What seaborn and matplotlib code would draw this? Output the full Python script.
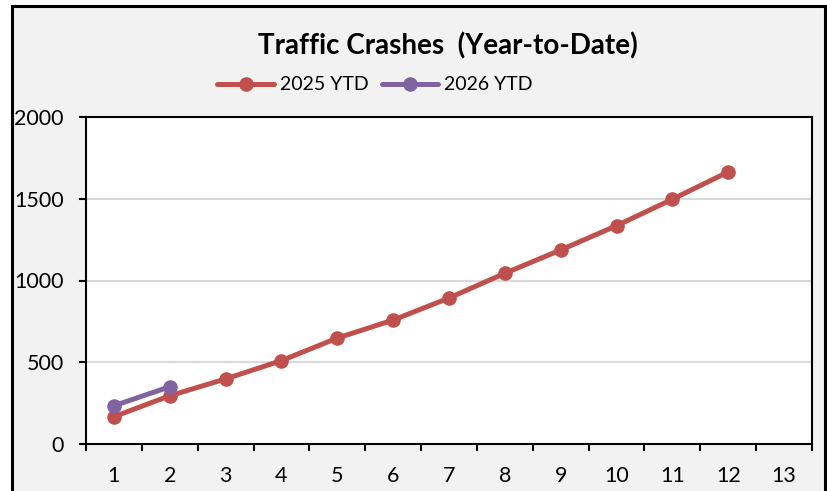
import matplotlib
matplotlib.use("Agg")
import matplotlib.pyplot as plt
from matplotlib.patches import Rectangle
from matplotlib.lines import Line2D
import pandas as pd
import seaborn as sns

MONTHS = list(range(1, 13))
YTD_2025 = [167, 295, 398, 510, 648, 758, 893, 1044, 1187, 1335, 1497, 1664]
MONTHS_2026 = [1, 2]
YTD_2026 = [234, 350]
SERIES = ["2025 YTD", "2026 YTD"]
COLORS = ["#C0504D", "#8064A2"]
X_TICKS = list(range(1, 14))
Y_TICKS = [0, 500, 1000, 1500, 2000]

df = pd.concat([
    pd.DataFrame({"month": MONTHS, "crashes": YTD_2025, "series": SERIES[0]}),
    pd.DataFrame({"month": MONTHS_2026, "crashes": YTD_2026, "series": SERIES[1]}),
])

sns.set_style("white")
plt.rcParams["font.family"] = ["Lato", "DejaVu Sans"]
plt.rcParams["text.color"] = "black"
plt.rcParams["xtick.color"] = "black"
plt.rcParams["ytick.color"] = "black"

fig = plt.figure(figsize=(8.28, 4.91), dpi=100, facecolor="white")
# outer chart frame
fig.patches.append(Rectangle((12 / 828, -0.05), 813 / 828, 1.05 - 6 / 491,
                             transform=fig.transFigure, facecolor="#F2F2F2",
                             edgecolor="black", linewidth=2.2, zorder=-1))

ax = fig.add_axes([86 / 828, 1 - 444 / 491, 726 / 828, 327 / 491])
ax.set_facecolor("white")

sns.lineplot(data=df, x="month", y="crashes", hue="series", hue_order=SERIES,
             palette=COLORS, marker="o", markersize=10.5, markeredgewidth=0,
             linewidth=3.6, ax=ax, legend=False)

ax.set_xlim(0.5, 13.5)
ax.set_ylim(0, 2000)
ax.set_xticks(X_TICKS)
ax.set_xticks([x + 0.5 for x in range(0, 14)], minor=True)
ax.set_yticks(Y_TICKS)
ax.tick_params(axis="x", which="major", length=0, pad=16, labelsize=15.5)
ax.tick_params(axis="x", which="minor", length=5, width=1.5, color="black",
               direction="out", bottom=True)
ax.tick_params(axis="y", length=5, width=1.5, color="black", direction="out",
               left=True, pad=11, labelsize=15.5)
ax.grid(axis="y", color="#D9D9D9", linewidth=1.5)
ax.set_axisbelow(True)
ax.set_xlabel("")
ax.set_ylabel("")
for s in ax.spines.values():
    s.set_visible(True)
    s.set_color("black")
    s.set_linewidth(1.5)

fig.text(448 / 828, 1 - 46 / 491, "Traffic Crashes  (Year-to-Date)",
         ha="center", va="center", fontsize=20, fontweight="bold")

handles = [Line2D([0], [0], color=c, linewidth=3.6, marker="o", markersize=10.5,
                  markeredgewidth=0) for c in COLORS]
fig.legend(handles, SERIES, loc="center", bbox_to_anchor=(375 / 828, 1 - 85 / 491),
           ncols=2, frameon=False, fontsize=14, handlelength=2.9,
           handletextpad=0.3, columnspacing=0.7)

fig.savefig("out.png", dpi=100, facecolor="white")
